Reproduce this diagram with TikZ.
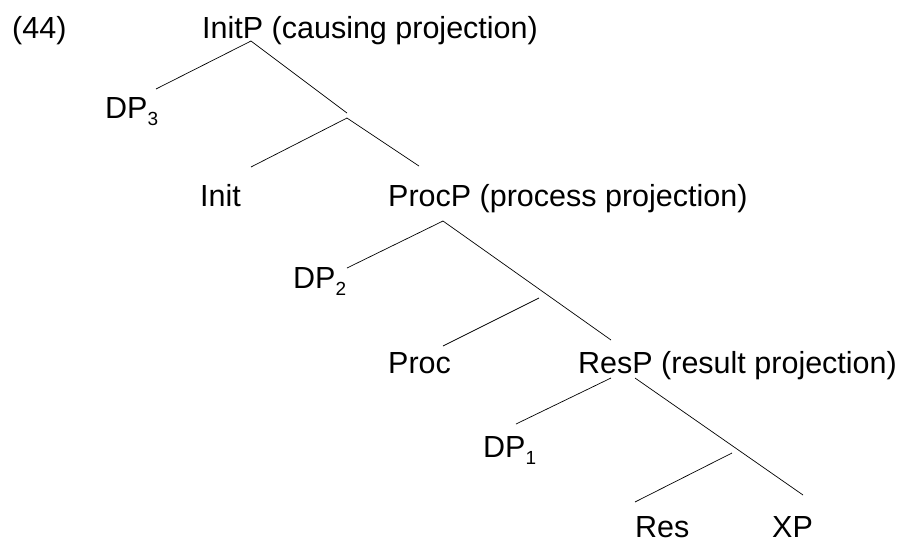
\documentclass[tikz,border=0pt]{standalone}
\usepackage{fontspec}
\setmainfont{Liberation Sans}
\newcommand{\lsub}[1]{\raisebox{-7pt}{\fontsize{19}{19}\selectfont #1}}
\begin{document}
\begin{tikzpicture}[x=1pt,y=-1pt,
  lbl/.style={anchor=base west,inner sep=0pt,font=\fontsize{30.5}{32}\selectfont},
  edge/.style={draw=black,line width=0.7pt}]
\useasboundingbox (0,0) rectangle (898,542);
% labels
\node[lbl] (ex) at (12,38) {(44)};
\node[lbl] (initp) at (202,38) {InitP (causing projection)};
\node[lbl] (dp3) at (105,118) {DP\lsub{3}};
\node[lbl] (init) at (200,206) {Init};
\node[lbl] (procp) at (388,206) {ProcP (process projection)};
\node[lbl] (dp2) at (293,288) {DP\lsub{2}};
\node[lbl] (proc) at (388,373) {Proc};
\node[lbl] (resp) at (578,373) {ResP (result projection)};
\node[lbl] (dp1) at (483,457) {DP\lsub{1}};
\node[lbl] (res) at (635,537) {Res};
\node[lbl] (xp) at (772,537) {XP};
% branch coordinates
\coordinate (a0) at (251,41);
\coordinate (a1) at (156,89);
\coordinate (a2) at (347,113);
\coordinate (b0) at (347,118);
\coordinate (b1) at (251,167);
\coordinate (b2) at (419,166);
\coordinate (c0) at (443,221);
\coordinate (c1) at (347,268);
\coordinate (c2) at (611,340);
\coordinate (d0) at (539,298);
\coordinate (d1) at (443,346);
\coordinate (e0) at (611,378);
\coordinate (e1) at (516,424);
\coordinate (f0) at (635,378);
\coordinate (f1) at (803,495);
\coordinate (g0) at (732,453);
\coordinate (g1) at (635,502);
% edges
\draw[edge] (a1) -- (a0) -- (a2);
\draw[edge] (b1) -- (b0) -- (b2);
\draw[edge] (c1) -- (c0) -- (c2);
\draw[edge] (d0) -- (d1);
\draw[edge] (e0) -- (e1);
\draw[edge] (f0) -- (f1);
\draw[edge] (g0) -- (g1);
\end{tikzpicture}
\end{document}
